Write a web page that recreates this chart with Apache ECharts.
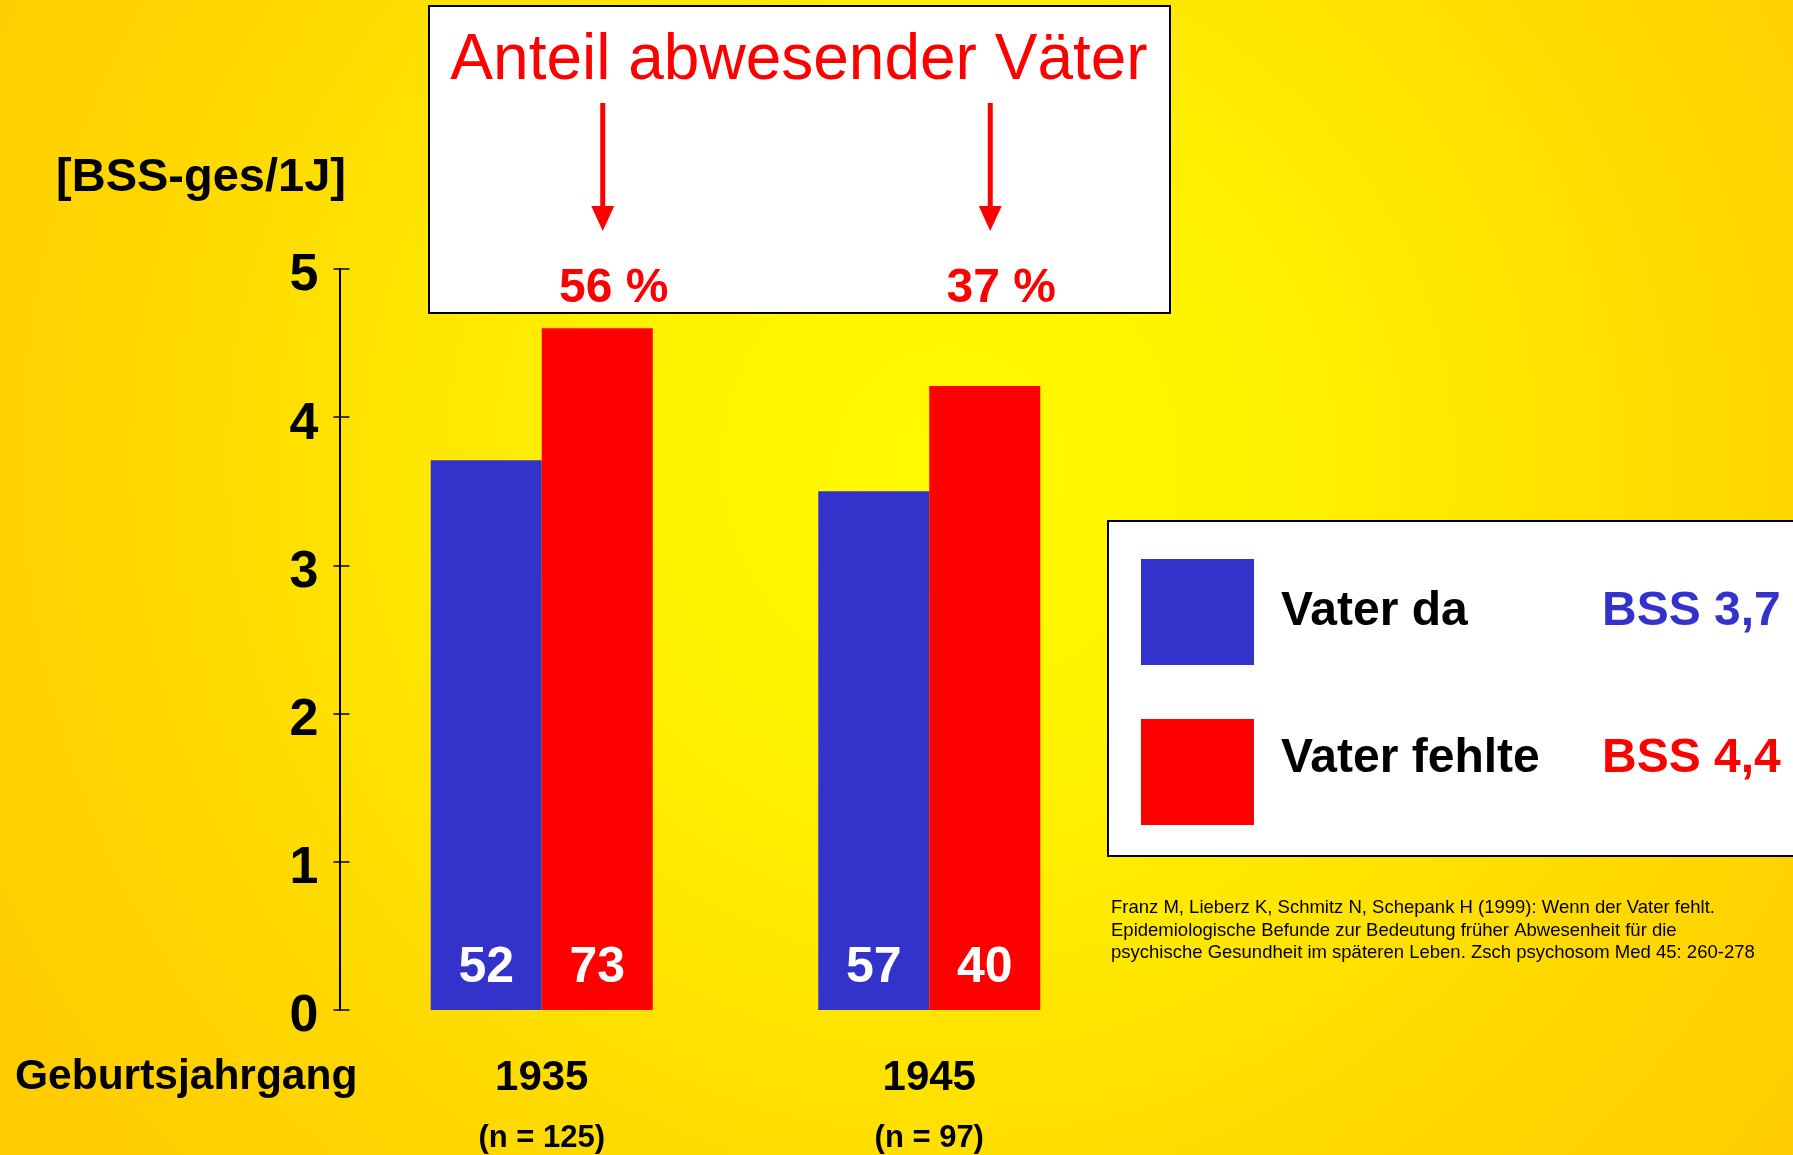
<!DOCTYPE html>
<html><head><meta charset="utf-8">
<script src="https://cdn.jsdelivr.net/npm/echarts@6/dist/echarts.min.js"></script>
<style>html,body{margin:0;padding:0;overflow:hidden;} #c{width:1793px;height:1155px;}</style>
</head><body><div id="c"></div>
<script>
// ---- data ----
const categories = ['1935', '1945'];
const sampleSizes = [125, 97];
const seriesNames = ['Vater da', 'Vater fehlte'];
const valuesDa = [3.71, 3.5];
const valuesFehlte = [4.6, 4.21];
const countsDa = [52, 57];
const countsFehlte = [73, 40];
const absentShare = [56, 37];
const bssMeans = [3.7, 4.4];
const yMin = 0, yMax = 5, yStep = 1;

const FONT = '"Liberation Sans", Arial, Helvetica, sans-serif';
const BLUE = '#3333CC', RED = '#FF0000';

const chart = echarts.init(document.getElementById('c'), null, {renderer: 'canvas'});

const fmtNum = v => String(v).replace('.', ',');

const option = {
  animation: false,
  backgroundColor: {
    type: 'radial', x: 0.53, y: 0.4, r: 0.95,
    colorStops: [
      {offset: 0, color: '#FFFA00'},
      {offset: 0.3, color: '#FFF200'},
      {offset: 0.7, color: '#FFDA00'},
      {offset: 1, color: '#FFCC00'}
    ]
  },
  textStyle: {fontFamily: FONT},
  grid: {left: 348, top: 269, width: 775, height: 741},
  legend: {
    data: seriesNames,
    orient: 'vertical',
    left: 1108, top: 521,
    padding: [38, 400, 31, 33],
    itemGap: 54,
    itemWidth: 113, itemHeight: 106,
    icon: 'rect',
    selectedMode: false,
    backgroundColor: '#FFFFFF',
    borderColor: '#000000', borderWidth: 2,
    formatter: name => {
      const i = seriesNames.indexOf(name);
      return '{n' + i + '|' + name + '}{v' + i + '|BSS ' + fmtNum(bssMeans[i]) + '}';
    },
    textStyle: {
      fontFamily: FONT,
      rich: {
        n0: {fontSize: 48, fontWeight: 'bold', color: '#000', width: 321, padding: [0, 0, 0, 22], fontFamily: FONT},
        n1: {fontSize: 48, fontWeight: 'bold', color: '#000', width: 321, padding: [0, 0, 27, 22], fontFamily: FONT},
        v0: {fontSize: 48, fontWeight: 'bold', color: BLUE, padding: [0, 0, 0, 0], fontFamily: FONT},
        v1: {fontSize: 48, fontWeight: 'bold', color: RED, padding: [0, 0, 27, 0], fontFamily: FONT}
      }
    }
  },
  xAxis: {
    type: 'category',
    data: categories,
    axisLine: {show: false},
    axisTick: {show: false},
    axisLabel: {
      margin: 43,
      verticalAlign: 'top',
      formatter: (v, i) => '{a|' + v + '}\n{b|(n = ' + sampleSizes[i] + ')}',
      rich: {
        a: {fontSize: 42, fontWeight: 'bold', color: '#000', lineHeight: 50, fontFamily: FONT},
        b: {fontSize: 31, fontWeight: 'bold', color: '#000', lineHeight: 70, fontFamily: FONT}
      }
    }
  },
  yAxis: [{
    type: 'value', min: yMin, max: yMax, interval: yStep,
    position: 'left', offset: 8.5,
    axisLine: {show: true, lineStyle: {color: '#000', width: 2}},
    axisTick: {show: true, inside: false, length: 6, lineStyle: {color: '#000', width: 1.5}},
    axisLabel: {fontSize: 52, fontWeight: 'bold', color: '#000', margin: 21, verticalAlign: 'top', lineHeight: 14, fontFamily: FONT},
    splitLine: {show: false}
  }, {
    type: 'value', min: yMin, max: yMax, interval: yStep,
    position: 'left', offset: 8.5,
    axisLine: {show: false},
    axisTick: {show: true, inside: true, length: 10, lineStyle: {color: '#000', width: 1.5}},
    axisLabel: {show: false},
    splitLine: {show: false}
  }],
  series: [{
    name: seriesNames[0], type: 'bar', yAxisIndex: 0,
    data: valuesDa, barWidth: 111, barGap: '0%',
    itemStyle: {color: BLUE},
    label: {show: true, position: 'insideBottom', distance: 17, color: '#FFF', fontSize: 50, fontWeight: 'bold', fontFamily: FONT,
      formatter: p => String(countsDa[p.dataIndex])}
  }, {
    name: seriesNames[1], type: 'bar', yAxisIndex: 0,
    data: valuesFehlte, barWidth: 111, barGap: '0%',
    itemStyle: {color: RED},
    label: {show: true, position: 'insideBottom', distance: 17, color: '#FFF', fontSize: 50, fontWeight: 'bold', fontFamily: FONT,
      formatter: p => String(countsFehlte[p.dataIndex])}
  }]
};
chart.setOption(option);

// annotations positioned from the category axis
const g = [];
g.push({type: 'rect', shape: {x: 429, y: 6, width: 741, height: 307},
  style: {fill: '#FFFFFF', stroke: '#000', lineWidth: 2}, z: 1});
g.push({type: 'text', x: 799, y: 61, z: 2,
  style: {text: 'Anteil abwesender Väter', fill: RED, font: '64px ' + FONT, align: 'center', verticalAlign: 'middle'}});
categories.forEach((c, i) => {
  const xc = chart.convertToPixel({xAxisIndex: 0}, i);
  const ax = xc + 61;
  g.push({type: 'line', z: 2, shape: {x1: ax, y1: 103, x2: ax, y2: 210}, style: {stroke: RED, lineWidth: 5}});
  g.push({type: 'polygon', z: 2, shape: {points: [[ax - 11.5, 206], [ax + 11.5, 206], [ax, 231]]}, style: {fill: RED}});
  g.push({type: 'text', z: 2, x: xc + 72, y: 289,
    style: {text: absentShare[i] + ' %', fill: RED, font: 'bold 48px ' + FONT, align: 'center', verticalAlign: 'middle'}});
});
g.push({type: 'text', x: 201, y: 178,
  style: {text: '[BSS-ges/1J]', fill: '#000', font: 'bold 47px ' + FONT, align: 'center', verticalAlign: 'middle'}});
g.push({type: 'text', x: 15, y: 1077,
  style: {text: 'Geburtsjahrgang', fill: '#000', font: 'bold 42.5px ' + FONT, align: 'left', verticalAlign: 'middle'}});
g.push({type: 'text', x: 1111, y: 897,
  style: {text: 'Franz M, Lieberz K, Schmitz N, Schepank H (1999): Wenn der Vater fehlt.\nEpidemiologische Befunde zur Bedeutung früher Abwesenheit für die\npsychische Gesundheit im späteren Leben. Zsch psychosom Med 45: 260-278',
    fill: '#000', font: '18.5px ' + FONT, lineHeight: 22.5, align: 'left', verticalAlign: 'top'}});
chart.setOption({graphic: g});
</script></body></html>
